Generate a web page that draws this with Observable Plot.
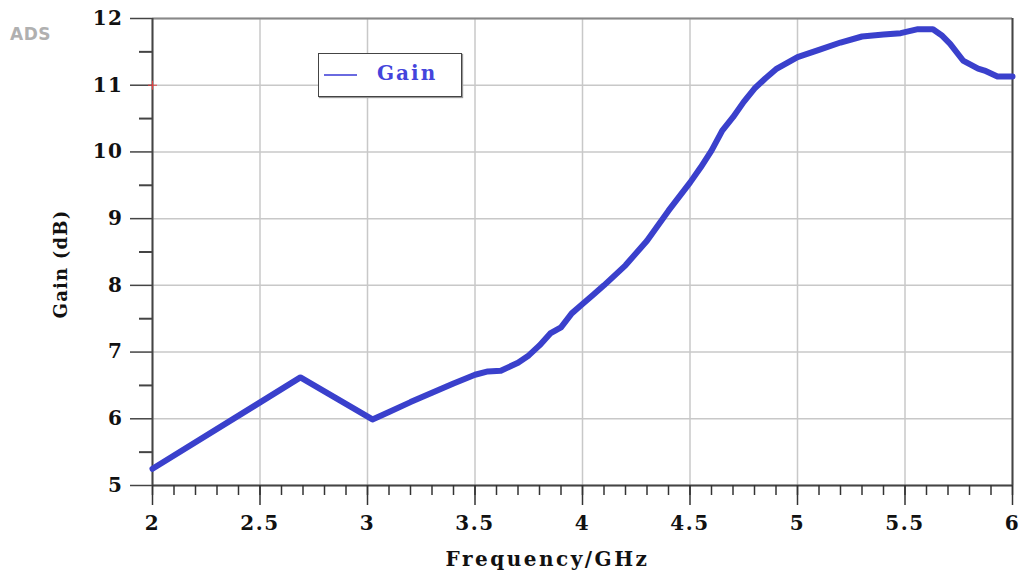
<!DOCTYPE html>
<html>
<head>
<meta charset="utf-8">
<script src="https://cdn.jsdelivr.net/npm/d3@7"></script>
<script src="https://cdn.jsdelivr.net/npm/@observablehq/plot@0.6"></script>
<style>
  html, body { margin: 0; padding: 0; background: #fff; }
  #wrap { position: relative; width: 1024px; height: 575px; overflow: hidden; }
  #ads { position: absolute; left: 10px; top: 24px; font: bold 17px "DejaVu Sans", sans-serif; color: #b0b0b0; letter-spacing: 0.5px; }
  #legend { position: absolute; left: 318px; top: 53px; width: 142px; height: 42px; border: 1.5px solid #444;
            box-shadow: 1px 1px 1px #999; background: #fff; }
  #legend .sw { position: absolute; left: 5px; top: 20px; width: 33px; height: 2px; background: #6a6ae0; }
  #legend .lb { position: absolute; left: 58px; top: 7px; font: bold 20px "DejaVu Serif", serif; color: #4444dc; letter-spacing: 2px; }
  svg text { letter-spacing: 1.5px; }
</style>
</head>
<body>
<div id="wrap">
  <div id="chart"></div>
  <div id="ads">ADS</div>
  <div id="legend"><div class="sw"></div><div class="lb">Gain</div></div>
</div>
<script>
const freq = [2.0, 2.688, 3.023, 3.1, 3.2, 3.3, 3.4, 3.5, 3.56, 3.62, 3.7, 3.75, 3.8, 3.85, 3.9, 3.95, 4.0, 4.05, 4.1, 4.2, 4.3, 4.4, 4.5, 4.55, 4.6, 4.65, 4.7, 4.75, 4.8, 4.85, 4.9, 5.0, 5.1, 5.2, 5.3, 5.4, 5.48, 5.56, 5.63, 5.67, 5.71, 5.77, 5.84, 5.87, 5.93, 6.0];
const gain = [5.25, 6.62, 5.99, 6.1, 6.25, 6.39, 6.53, 6.66, 6.71, 6.72, 6.84, 6.95, 7.1, 7.28, 7.37, 7.58, 7.72, 7.86, 8.0, 8.3, 8.67, 9.12, 9.54, 9.77, 10.02, 10.32, 10.52, 10.75, 10.95, 11.1, 11.24, 11.42, 11.53, 11.64, 11.73, 11.76, 11.78, 11.84, 11.84, 11.75, 11.62, 11.37, 11.25, 11.22, 11.13, 11.13];
const xMajor = [2, 2.5, 3, 3.5, 4, 4.5, 5, 5.5, 6];
const xMinor = d3.range(20, 61).map(d => d / 10);
const yMajor = [5, 6, 7, 8, 9, 10, 11, 12];
const yMinor = [5.5, 6.5, 7.5, 8.5, 9.5, 10.5, 11.5];
const marker = [{x: 2, y: 11}];

const data = freq.map((f, i) => ({f, g: gain[i]}));
const font = '"DejaVu Serif", serif';

const chart = Plot.plot({
  width: 1024,
  height: 575,
  marginLeft: 152,
  marginRight: 12,
  marginTop: 18,
  marginBottom: 90,
  style: {fontFamily: font, fontWeight: "bold", color: "#111", background: "#fff"},
  x: {domain: [2, 6]},
  y: {domain: [5, 12]},
  marks: [
    Plot.gridX(xMajor, {stroke: "#c8c8c8", strokeOpacity: 1, strokeWidth: 1.5}),
    Plot.gridY(yMajor, {stroke: "#c8c8c8", strokeOpacity: 1, strokeWidth: 1.5}),
    Plot.ruleY([12], {stroke: "#888", strokeWidth: 2}),
    Plot.ruleX([6], {stroke: "#444", strokeWidth: 2}),
    Plot.ruleX([2], {stroke: "#444", strokeWidth: 2}),
    Plot.ruleY([5], {stroke: "#444", strokeWidth: 2}),
    Plot.axisX(xMinor, {tickSize: 10, text: null, stroke: "#333", strokeWidth: 1.5, label: null}),
    Plot.axisX(xMajor, {tickSize: 20, tickPadding: 10, fontSize: 20, stroke: "#333", strokeWidth: 1.5,
      tickFormat: d => String(d), label: null}),
    Plot.axisY(yMinor, {tickSize: 13, text: null, stroke: "#444", strokeWidth: 2, label: null}),
    Plot.axisY(yMajor, {tickSize: 22, tickPadding: 7, fontSize: 20, stroke: "#444", strokeWidth: 1.5,
      tickFormat: d => String(d), label: null}),
    Plot.text(["Frequency/GHz"], {frameAnchor: "bottom", dy: 80, fontSize: 20, fontWeight: "bold", fill: "#111", dx: -35}),
    Plot.text(["Gain (dB)"], {frameAnchor: "left", textAnchor: "middle", dx: -91, dy: 12, rotate: -90, fontSize: 18, fontWeight: "bold", fill: "#111"}),
    Plot.line(data, {x: "f", y: "g", stroke: "#3a40cc", strokeWidth: 6, strokeLinejoin: "round", strokeLinecap: "round"}),
    Plot.dot(marker, {x: "x", y: "y", symbol: "plus", r: 3, stroke: "#e04040", strokeWidth: 1})
  ]
});
d3.select(chart).selectAll("text").each(function() {
  const t = this.textContent;
  if (t === "Frequency/GHz") this.style.letterSpacing = "2.5px";
  if (t === "Gain (dB)") this.style.letterSpacing = "1.2px";
});
document.getElementById("chart").appendChild(chart);
</script>
</body>
</html>
